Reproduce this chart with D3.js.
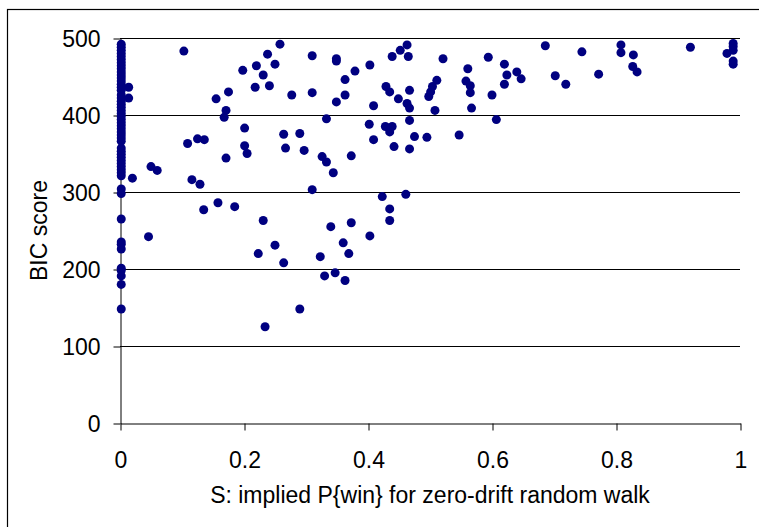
<!DOCTYPE html>
<html>
<head>
<meta charset="utf-8">
<script src="https://cdn.jsdelivr.net/npm/d3@7"></script>
<style>
  html, body { margin: 0; padding: 0; background: #fff; }
  svg { display: block; }
  text { font-family: "Liberation Sans", Arial, sans-serif; fill: #000; }
</style>
</head>
<body>
<svg id="chart" width="759" height="527"></svg>
<script>
// ---- data ----
const xTicks = [0, 0.2, 0.4, 0.6, 0.8, 1];
const xTickLabels = ["0", "0.2", "0.4", "0.6", "0.8", "1"];
const yTicks = [0, 100, 200, 300, 400, 500];
const yTickLabels = ["0", "100", "200", "300", "400", "500"];
const xTitle = "S: implied P{win} for zero-drift random walk";
const yTitle = "BIC score";

// points at S ~ 0
const zeroS = [492,488,484,480,476,472,468,464,460,456,452,448,444,440,436,432,
  426,422,418,414,410,406,402,398,394,390,386,382,378,374,370,366,
  357,353,349,345,341,337,333,329,325,321,304,298,265,235,232,226,201,198,191,180,148];

// remaining points: S values and BIC values
const sVals = [0.014,0.014,0.020,0.046,0.050,0.060,0.103,0.109,0.116,0.125,0.129,0.135,0.136,
  0.155,0.158,0.168,0.171,0.171,0.175,0.185,0.198,0.201,0.201,0.205,0.218,0.220,0.223,
  0.231,0.231,0.234,0.238,0.241,0.250,0.250,0.258,0.264,0.264,0.267,0.277,0.290,0.290,0.297,
  0.310,0.310,0.310,0.323,0.326,0.330,0.333,0.333,0.340,0.344,0.347,0.349,0.349,0.349,0.360,
  0.363,0.363,0.363,0.369,0.373,0.373,0.379,0.402,0.403,0.403,0.409,0.409,0.423,0.428,0.429,
  0.435,0.435,0.435,0.435,0.439,0.439,0.442,0.449,0.452,0.461,0.463,0.463,0.465,0.467,0.467,
  0.467,0.467,0.475,0.495,0.498,0.501,0.504,0.508,0.511,0.521,0.547,0.558,0.561,0.565,0.565,
  0.567,0.594,0.600,0.607,0.620,0.620,0.624,0.640,0.647,0.686,0.702,0.719,0.745,0.772,0.808,
  0.808,0.827,0.828,0.834,0.920,0.979,0.989,0.989,0.989,0.989,0.989];
const bicVals = [436,422,318,242,333,328,483,363,316,369,310,277,368,
  421,286,397,406,344,430,281,458,383,360,350,436,464,220,
  452,263,125,479,438,466,231,492,375,208,357,426,376,148,354,
  477,429,303,216,346,191,395,339,255,325,195,473,470,417,234,
  446,426,185,220,347,260,457,388,465,243,412,368,294,385,437,
  430,378,278,263,476,385,359,421,484,297,491,415,476,432,409,
  393,356,372,371,424,430,437,406,445,473,374,444,460,438,429,
  409,475,426,394,466,440,452,456,447,490,451,440,482,453,491,
  481,463,478,456,488,480,493,489,484,470,466];

// ---- chart ----
const svg = d3.select("#chart");
const W = 759, H = 527;
const mLeft = 120, mRight = 740, mTop = 38, mBottom = 423;

// outer border
svg.append("rect").attr("x", 7.5).attr("y", 9.5).attr("width", W).attr("height", H)
  .attr("fill", "none").attr("stroke", "#000").attr("stroke-width", 1.2);

const x = d3.scaleLinear().domain([0, 1]).range([mLeft, mRight]);
const y = d3.scaleLinear().domain([0, 500]).range([mBottom, mTop]);

// gridlines
svg.append("g").selectAll("line").data(yTicks.filter(d => d > 0)).join("line")
  .attr("x1", mLeft).attr("x2", mRight)
  .attr("y1", d => Math.round(y(d)) + 0.5).attr("y2", d => Math.round(y(d)) + 0.5)
  .attr("stroke", "#000").attr("stroke-width", 1);

// y axis
const yAxis = d3.axisLeft(y).tickValues(yTicks).tickFormat((d, i) => yTickLabels[i])
  .tickSizeInner(7).tickSizeOuter(0).tickPadding(13);
const gy = svg.append("g").attr("transform", `translate(${mLeft + 0.5},0.5)`).call(yAxis);
gy.selectAll("text").style("font-size", "23px").attr("dy", "0.36em");

// x axis
const xAxis = d3.axisBottom(x).tickValues(xTicks).tickFormat((d, i) => xTickLabels[i])
  .tickSizeInner(7).tickSizeOuter(0).tickPadding(21);
const gx = svg.append("g").attr("transform", `translate(0.5,${mBottom + 0.5})`).call(xAxis);
gx.selectAll("text").style("font-size", "23px");

[gx, gy].forEach(g => {
  g.select(".domain").attr("stroke", "#000").attr("stroke-width", 1);
  g.selectAll(".tick line").attr("stroke", "#000");
  g.selectAll("text").attr("fill", "#000").style("font-family", "'Liberation Sans', Arial, sans-serif");
});

// titles
svg.append("text").attr("x", (mLeft + mRight) / 2).attr("y", 503)
  .attr("text-anchor", "middle").style("font-size", "23px").text(xTitle);
svg.append("text").attr("transform", `translate(47,${(mTop + mBottom) / 2}) rotate(-90)`)
  .attr("text-anchor", "middle").style("font-size", "23px").text(yTitle);

// points
const pts = zeroS.map(v => ({ s: 0.002, b: v }))
  .concat(sVals.map((s, i) => ({ s, b: bicVals[i] })));
svg.append("g").selectAll("circle").data(pts).join("circle")
  .attr("cx", d => x(d.s)).attr("cy", d => y(d.b)).attr("r", 4.5)
  .attr("fill", "#000080");
</script>
</body>
</html>
